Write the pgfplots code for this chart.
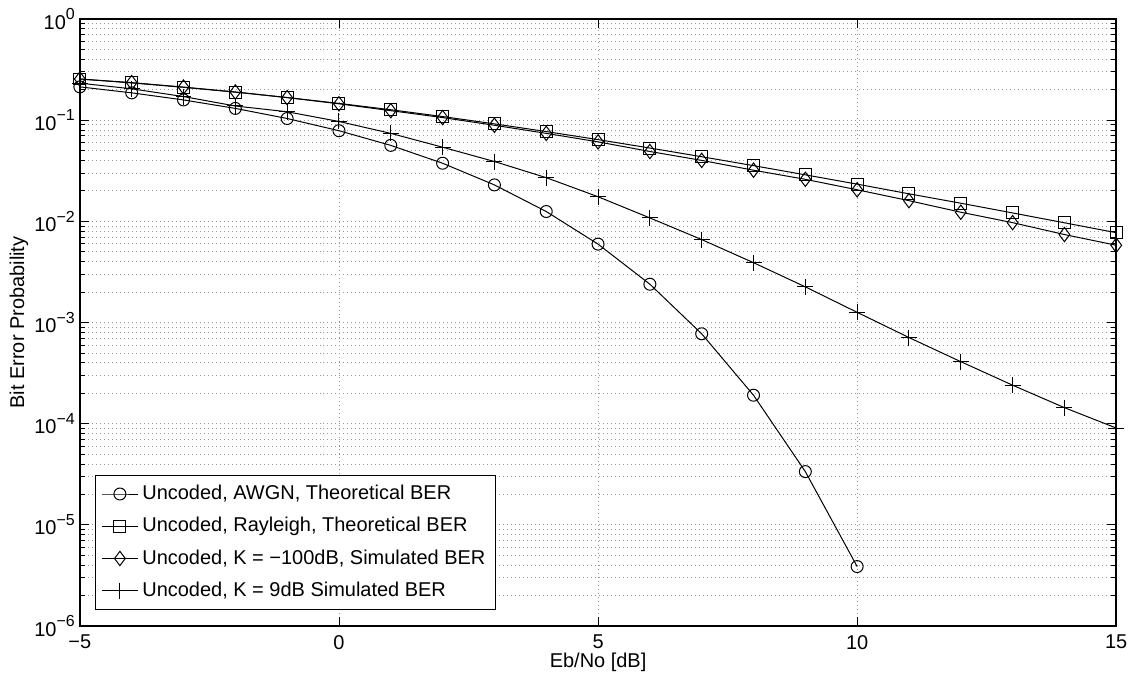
\documentclass[border=0pt]{standalone}
\usepackage{pgfplots}
\pgfplotsset{compat=1.18}
\usepackage{fontspec}
\setmainfont{Liberation Sans}
\newcommand{\ex}[1]{10\raisebox{0.9ex}{\fontsize{8}{8}\selectfont #1}}

\begin{document}
\begin{tikzpicture}[font=\fontsize{10}{12}\selectfont]
  \begin{axis}[
      name=ax,
      scale only axis,
      width=519pt, height=304pt,
      xmin=-5, xmax=15,
      ymode=log, ymin=1e-6, ymax=1,
      xtick={-5,0,5,10,15},
      xticklabels={−5,0,5,10,15},
      ytick={1e-6,1e-5,1e-4,1e-3,1e-2,1e-1,1},
      yticklabels={\ex{−6},\ex{−5},\ex{−4},\ex{−3},\ex{−2},\ex{−1},\ex{0}},
      minor x tick num=0,
      tick align=inside,
      major tick length=4.5pt, minor tick length=2.5pt,
      every tick/.style={black, line width=0.4pt},
      axis line style={line width=0.8pt},
      xmajorgrids, ymajorgrids, yminorgrids,
      major grid style={gray!80, line width=0.4pt, dash pattern=on 0.5pt off 1.5pt},
      minor grid style={gray!80, line width=0.4pt, dash pattern=on 0.5pt off 1.5pt},
      xticklabel style={yshift=-1pt},
      yticklabel style={xshift=1pt},
      xlabel={Eb/No [dB]},
      ylabel={Bit Error Probability},
      xlabel style={at={(axis description cs:0.5,0)}, anchor=center, yshift=-18pt},
      ylabel style={at={(axis description cs:-0.0588,0.5)}, anchor=center},
      legend style={at={(0,0)}, anchor=south west, xshift=7.5pt, yshift=8pt,
                    draw=black, line width=0.6pt, row sep=3.4pt,
                    inner xsep=3pt, inner ysep=3pt, font=\fontsize{10}{12}\selectfont},
      legend cell align=left,
      legend image code/.code={
        \draw[mark repeat=2, mark phase=2, #1]
          plot coordinates {(0pt,0pt) (9pt,0pt) (18pt,0pt)};
      },
      every axis plot/.append style={black, line width=0.5pt, mark options={solid, line width=0.5pt}},
    ]

    % AWGN theoretical
    \addplot[mark=o, mark size=3pt] coordinates {
      (-5,0.2132) (-4,0.1861) (-3,0.1584) (-2,0.1306) (-1,0.1038) (0,0.0786)
      (1,0.0563) (2,0.0375) (3,0.0229) (4,0.0125) (5,0.00595) (6,0.00239)
      (7,0.000773) (8,0.000191) (9,3.36e-5) (10,3.87e-6)
    };
    \addlegendentry{Uncoded, AWGN, Theoretical BER}

    % Rayleigh theoretical
    \addplot[mark=square, mark size=3pt] coordinates {
      (-5,0.2550) (-4,0.2332) (-3,0.2111) (-2,0.1890) (-1,0.1673) (0,0.1464)
      (1,0.1267) (2,0.1085) (3,0.0919) (4,0.0771) (5,0.0642) (6,0.0530)
      (7,0.0435) (8,0.0355) (9,0.0288) (10,0.0233) (11,0.0187) (12,0.0151)
      (13,0.0121) (14,0.00967) (15,0.00772)
    };
    \addlegendentry{Uncoded, Rayleigh, Theoretical BER}

    % K = -100 dB simulated
    \addplot[mark=diamond, mark size=3.6pt] coordinates {
      (-5,0.255) (-4,0.235) (-3,0.212) (-2,0.190) (-1,0.167) (0,0.145)
      (1,0.124) (2,0.106) (3,0.089) (4,0.074) (5,0.061) (6,0.049)
      (7,0.040) (8,0.032) (9,0.026) (10,0.0205) (11,0.016) (12,0.0123)
      (13,0.0097) (14,0.0074) (15,0.0058)
    };
    \addlegendentry{Uncoded, K = −100dB, Simulated BER}

    % K = 9 dB simulated
    \addplot[mark=+, mark size=4pt] coordinates {
      (-5,0.232) (-4,0.204) (-3,0.171) (-2,0.138) (-1,0.121) (0,0.097)
      (1,0.074) (2,0.054) (3,0.039) (4,0.027) (5,0.0175) (6,0.0108)
      (7,0.0066) (8,0.0039) (9,0.00225) (10,0.00126) (11,0.00071) (12,0.00041)
      (13,0.00024) (14,0.000144) (15,0.0000905)
    };
    \addlegendentry{Uncoded, K = 9dB Simulated BER}
  \end{axis}
  % page size matching the reference proportions
  \path ([xshift=-40pt,yshift=-25.5pt]ax.south west) rectangle ([xshift=8pt,yshift=9.5pt]ax.north east);
\end{tikzpicture}
\end{document}
